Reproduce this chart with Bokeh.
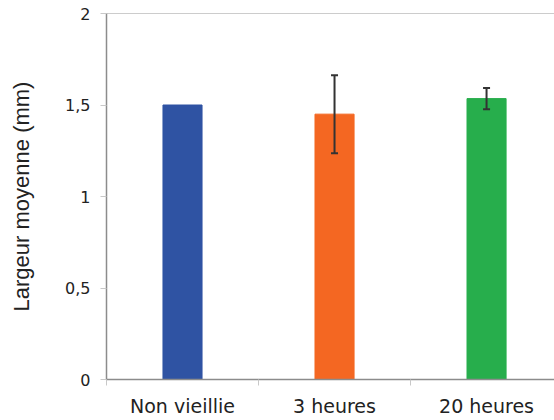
from bokeh.plotting import figure
from bokeh.models import ColumnDataSource, FixedTicker, Whisker, TeeHead, Span
from bokeh.embed import file_html
from bokeh.resources import INLINE

categories = ["Non vieillie", "3 heures", "20 heures"]
values = [1.50, 1.45, 1.535]
errors = [0.0, 0.213, 0.058]
colors = ["#2F53A3", "#F46722", "#27AE4C"]
y_ticks = [0, 0.5, 1, 1.5, 2]
y_tick_labels = ["0", "0,5", "1", "1,5", "2"]
y_title = "Largeur moyenne (mm)"

xs = [i + 0.5 for i in range(len(categories))]
src = ColumnDataSource(dict(x=xs, top=values, color=colors))
ex = [x for x, e in zip(xs, errors) if e > 0]
eu = [v + e for v, e in zip(values, errors) if e > 0]
el = [v - e for v, e in zip(values, errors) if e > 0]
err_src = ColumnDataSource(dict(x=ex, upper=eu, lower=el))

p = figure(frame_width=448, frame_height=366, x_range=(0, 2.947), y_range=(0, 2),
           output_backend="svg", toolbar_location=None,
           min_border_left=106, min_border_right=0, min_border_top=13, min_border_bottom=41)
p.outline_line_color = None
p.xgrid.visible = False
p.ygrid.visible = False
p.background_fill_color = "white"
p.border_fill_color = "white"

p.vbar(x="x", top="top", width=0.257, color="color", source=src)
head = dict(size=7, line_color="#333333", line_width=2)
p.add_layout(Whisker(base="x", upper="upper", lower="lower", source=err_src,
                     line_color="#333333", line_width=2, level="overlay",
                     upper_head=TeeHead(**head), lower_head=TeeHead(**head)))
p.add_layout(Span(location=2, dimension="width", line_color="#999999", line_width=1))

ya = p.yaxis[0]
ya.ticker = FixedTicker(ticks=y_ticks, minor_ticks=[])
ya.major_label_overrides = {float(t): l for t, l in zip(y_ticks, y_tick_labels)}
ya.major_tick_out = 6
ya.major_tick_in = 0
ya.major_tick_line_color = "#c8c8c8"
ya.axis_line_color = "#8c8c8c"
ya.axis_line_width = 1.5
ya.major_label_text_font = "DejaVu Sans"
ya.major_label_text_font_size = "16px"
ya.major_label_text_color = "#222222"
ya.major_label_standoff = 10
ya.axis_label = y_title
ya.axis_label_text_font = "Liberation Sans"
ya.axis_label_text_font_size = "22px"
ya.axis_label_text_font_style = "normal"
ya.axis_label_text_color = "#222222"
ya.axis_label_standoff = 28

xa = p.xaxis[0]
xa.ticker = FixedTicker(ticks=xs, minor_ticks=[0, 1, 2, 3])
xa.major_label_overrides = {float(x): c for x, c in zip(xs, categories)}
xa.major_tick_line_color = None
xa.major_tick_out = 0
xa.major_tick_in = 0
xa.minor_tick_out = 6
xa.minor_tick_in = 0
xa.minor_tick_line_color = "#c8c8c8"
xa.axis_line_color = "#8c8c8c"
xa.axis_line_width = 1.5
xa.major_label_text_font = "DejaVu Sans"
xa.major_label_text_font_size = "19px"
xa.major_label_text_color = "#222222"
xa.major_label_standoff = 9

open("out.html", "w").write(file_html(p, INLINE))
